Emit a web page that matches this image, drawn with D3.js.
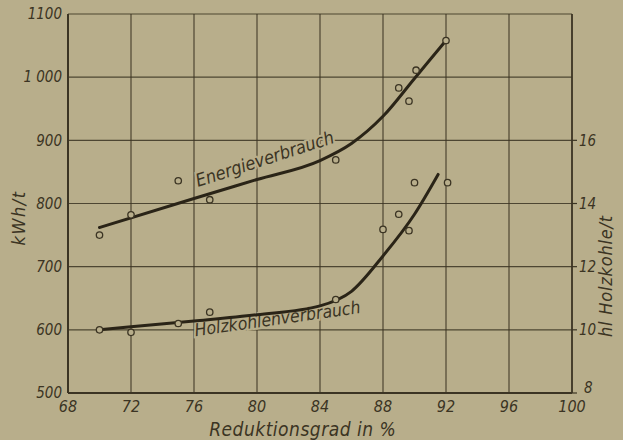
<!DOCTYPE html>
<html>
<head>
<meta charset="utf-8">
<script src="https://cdn.jsdelivr.net/npm/d3@7"></script>
<style>
  body { margin: 0; background: #b8ae8b; }
  svg { display: block; }
  text { font-family: "DejaVu Sans Condensed", "DejaVu Sans", sans-serif; font-style: oblique; fill: #3b3423; }
</style>
</head>
<body>
<svg id="chart" width="623" height="440"></svg>
<script>
// Reduktionsgrad (%) ticks and both y axes
var xTicks = [68, 72, 76, 80, 84, 88, 92, 96, 100];
var yTicks = [500, 600, 700, 800, 900, 1000, 1100];
var yTickLabels = ["500", "600", "700", "800", "900", "1 000", "1100"];
var yRightTicks = [8, 10, 12, 14, 16];

// Energieverbrauch, kWh/t
var energyCurve = [[70, 762], [76, 808], [80, 838], [84, 868], [86, 895], [88, 938], [90, 998], [92, 1058]];
var energyPoints = [[70, 750], [72, 782], [75, 836], [77, 806], [85, 869], [89, 983], [89.65, 962], [90.1, 1011], [92, 1058]];

// Holzkohlenverbrauch, hl/t
var coalCurve = [[70, 10], [72, 10.1], [76, 10.28], [80, 10.48], [84, 10.76], [86, 11.22], [88, 12.34], [90, 13.66], [91.5, 14.92]];
var coalPoints = [[70, 10], [72, 9.92], [75, 10.2], [77, 10.56], [85, 10.96], [88, 13.18], [89, 13.66], [89.65, 13.14], [90, 14.66], [92.1, 14.66]];

var ink = "#3b3423";
var paper = "#b8ae8b";
var svg = d3.select("#chart");
var margin = {top: 14, right: 51, bottom: 47, left: 68};
var width = 623 - margin.left - margin.right;
var height = 440 - margin.top - margin.bottom;
var g = svg.append("g").attr("transform", "translate(" + margin.left + "," + margin.top + ")");

var x = d3.scaleLinear().domain([68, 100]).range([0, width]);
var y = d3.scaleLinear().domain([500, 1100]).range([height, 0]);
var yR = d3.scaleLinear().domain([8, 20]).range([height, 0]);

// grid
g.selectAll(".vgrid").data(xTicks).enter().append("line")
    .attr("x1", function(d) { return x(d); }).attr("x2", function(d) { return x(d); })
    .attr("y1", 0).attr("y2", height)
    .attr("stroke", ink).attr("stroke-width", 1.2).attr("opacity", 0.85);
g.selectAll(".hgrid").data(yTicks).enter().append("line")
    .attr("x1", 0).attr("x2", width)
    .attr("y1", function(d) { return y(d); }).attr("y2", function(d) { return y(d); })
    .attr("stroke", ink).attr("stroke-width", 1.2).attr("opacity", 0.85);

// frame
g.append("line").attr("x1", 0).attr("x2", 0).attr("y1", 0).attr("y2", height).attr("stroke", ink).attr("stroke-width", 2);
g.append("line").attr("x1", 0).attr("x2", width).attr("y1", height).attr("y2", height).attr("stroke", ink).attr("stroke-width", 2.2);
g.append("line").attr("x1", width).attr("x2", width).attr("y1", 0).attr("y2", height).attr("stroke", ink).attr("stroke-width", 1.6);

// axes labels
g.selectAll(".xl").data(xTicks).enter().append("text")
    .attr("x", function(d) { return x(d); })
    .attr("y", height + 19)
    .attr("text-anchor", "middle")
    .style("font-size", "16px")
    .text(function(d) { return d; });

g.selectAll(".yl").data(yTicks).enter().append("text")
    .attr("x", -6)
    .attr("y", function(d) { return y(d); })
    .attr("dy", "0.35em")
    .attr("text-anchor", "end")
    .style("font-size", "15px")
    .text(function(d, i) { return yTickLabels[i]; });

g.selectAll(".rt").data(yRightTicks).enter().append("line")
    .attr("x1", width).attr("x2", width + 5)
    .attr("y1", function(d) { return yR(d); }).attr("y2", function(d) { return yR(d); })
    .attr("stroke", ink).attr("stroke-width", 1.2);
g.selectAll(".yr").data(yRightTicks).enter().append("text")
    .attr("x", function(d) { return width + (d === 8 ? 12 : 7); })
    .attr("y", function(d) { return yR(d) - (d === 8 ? 5 : 0); })
    .attr("dy", "0.35em")
    .attr("text-anchor", "start")
    .style("font-size", "15px")
    .text(function(d) { return d; });

svg.append("text")
    .attr("transform", "translate(25,218) rotate(-90)")
    .attr("text-anchor", "middle")
    .style("font-size", "18px")
    .style("letter-spacing", "1.5px")
    .text("kWh/t");
svg.append("text")
    .attr("transform", "translate(612,276) rotate(-90)")
    .attr("text-anchor", "middle")
    .style("font-size", "18px")
    .style("letter-spacing", "0.8px")
    .text("hl Holzkohle/t");
svg.append("text")
    .attr("x", margin.left + x(82.9))
    .attr("y", 436)
    .attr("text-anchor", "middle")
    .style("font-size", "19px")
    .style("letter-spacing", "0.5px")
    .text("Reduktionsgrad in %");

// curve labels
g.append("text")
    .attr("transform", "translate(" + x(76.25) + "," + y(826) + ") rotate(-18)")
    .attr("stroke", paper).attr("stroke-width", 4).attr("paint-order", "stroke")
    .style("font-size", "18px")
    .text("Energieverbrauch");
g.append("text")
    .attr("transform", "translate(" + x(76.1) + "," + yR(9.8) + ") rotate(-8)")
    .attr("stroke", paper).attr("stroke-width", 4).attr("paint-order", "stroke")
    .style("font-size", "17.5px")
    .text("Holzkohlenverbrauch");

// curves
var lineE = d3.line().curve(d3.curveMonotoneX)
    .x(function(d) { return x(d[0]); }).y(function(d) { return y(d[1]); });
var lineC = d3.line().curve(d3.curveMonotoneX)
    .x(function(d) { return x(d[0]); }).y(function(d) { return yR(d[1]); });

g.append("path").datum(energyCurve).attr("d", lineE)
    .attr("fill", "none").attr("stroke", "#2a2417").attr("stroke-width", 3).attr("stroke-linecap", "round");
g.append("path").datum(coalCurve).attr("d", lineC)
    .attr("fill", "none").attr("stroke", "#2a2417").attr("stroke-width", 3).attr("stroke-linecap", "round");

// measured points
g.selectAll(".pe").data(energyPoints).enter().append("circle")
    .attr("cx", function(d) { return x(d[0]); })
    .attr("cy", function(d) { return y(d[1]); })
    .attr("r", 3.2)
    .attr("fill", paper).attr("stroke", ink).attr("stroke-width", 1.3);
g.selectAll(".pc").data(coalPoints).enter().append("circle")
    .attr("cx", function(d) { return x(d[0]); })
    .attr("cy", function(d) { return yR(d[1]); })
    .attr("r", 3.2)
    .attr("fill", paper).attr("stroke", ink).attr("stroke-width", 1.3);
</script>
</body>
</html>
